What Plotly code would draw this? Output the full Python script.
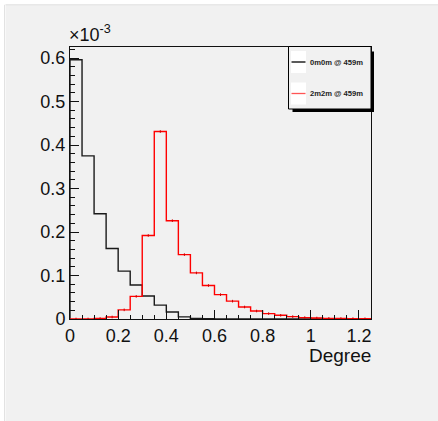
import plotly.graph_objects as go

# bin edges (Degree), width 0.05, 0 .. 1.25
bin_edges = [round(i * 0.05, 2) for i in range(26)]

# histogram contents in units of 1e-3
black_vals = [0.596, 0.375, 0.242, 0.162, 0.110, 0.078, 0.053, 0.032, 0.016, 0.005,
              0.0015, 0.0006, 0.0003, 0.0002, 0.0001, 0, 0, 0, 0, 0, 0, 0, 0, 0, 0]
red_vals = [0, 0, 0.001, 0.0046, 0.021, 0.052, 0.192, 0.431, 0.226, 0.148,
            0.106, 0.077, 0.056, 0.041, 0.0276, 0.0184, 0.0124, 0.0085, 0.0055, 0.0032,
            0.0022, 0.0015, 0.001, 0.0008, 0.0005]

series_names = ["0m0m @ 459m", "2m2m @ 459m"]
x_ticks = [0, 0.2, 0.4, 0.6, 0.8, 1, 1.2]
y_ticks = [0, 0.1, 0.2, 0.3, 0.4, 0.5, 0.6]

W, H = 438, 421
L, R, T, B = 70, 67, 47, 102
pw, ph = W - L - R, H - T - B
BG = "#f1f1f1"
FONT = "Liberation Sans, Arial, Helvetica, sans-serif"
FS = 18


def px(x):
    return (x - L) / pw


def py(y):
    return (H - B - y) / ph


def step(vals):
    xs = [bin_edges[0]] + bin_edges
    ys = [0] + list(vals) + [vals[-1]]
    return xs, ys


fig = go.Figure()
bx, by = step(black_vals)
fig.add_trace(go.Scatter(x=bx, y=by, mode="lines", line=dict(color="#1a1a1a", width=1.4, shape="hv"),
                         showlegend=False, hoverinfo="skip"))
rx, ry = step(red_vals)
fig.add_trace(go.Scatter(x=rx, y=ry, mode="lines", line=dict(color="#ff0000", width=1.4, shape="hv"),
                         showlegend=False, hoverinfo="skip"))
# small error ticks at bin centers for red
centers = [round(e + 0.025, 3) for e in bin_edges[:-1]]
fig.add_trace(go.Scatter(x=centers, y=red_vals, mode="markers", marker=dict(size=0.1, color="red"),
                         error_y=dict(type="data", array=[0.003] * len(red_vals), color="#cc0000",
                                      thickness=1, width=0),
                         showlegend=False, hoverinfo="skip"))

shapes = []
# white outer strips
shapes.append(dict(type="rect", xref="paper", yref="paper", x0=px(0), x1=px(W), y0=py(0), y1=py(4.5),
                   fillcolor="white", line=dict(width=0), layer="below"))
shapes.append(dict(type="rect", xref="paper", yref="paper", x0=px(0), x1=px(5.5), y0=py(0), y1=py(H),
                   fillcolor="white", line=dict(width=0), layer="below"))
shapes.append(dict(type="line", xref="paper", yref="paper", x0=px(5.5), x1=px(W), y0=py(4.8), y1=py(4.8),
                   line=dict(color="#e2e2e2", width=1)))
shapes.append(dict(type="line", xref="paper", yref="paper", x0=px(4.5), x1=px(4.5), y0=py(4.8), y1=py(H),
                   line=dict(color="#e2e2e2", width=1)))

# legend box with shadow
lx0, lx1, ly0, ly1 = 288.5, 371, 46.5, 109
shapes.append(dict(type="rect", xref="paper", yref="paper", x0=px(lx0 + 4), x1=px(lx1 + 3), y0=py(ly0 + 5),
                   y1=py(ly1 + 3), fillcolor="black", line=dict(width=0)))
shapes.append(dict(type="rect", xref="paper", yref="paper", x0=px(lx0), x1=px(lx1), y0=py(ly0), y1=py(ly1),
                   fillcolor=BG, line=dict(color="black", width=1)))
for i, (yc, col) in enumerate([(62, "black"), (93.5, "#ff5555")]):
    shapes.append(dict(type="rect", xref="paper", yref="paper", x0=px(291), x1=px(306), y0=py(yc - 11),
                       y1=py(yc + 11), fillcolor="white", line=dict(width=0)))
    shapes.append(dict(type="line", xref="paper", yref="paper", x0=px(291.5), x1=px(305.5), y0=py(yc),
                       y1=py(yc), line=dict(color=col, width=1.3)))

annotations = []
for i, yc in enumerate([62, 93.5]):
    annotations.append(dict(text="<b>" + series_names[i] + "</b>", xref="paper", yref="paper",
                            x=px(308), y=py(yc), xanchor="left", yanchor="middle", showarrow=False,
                            font=dict(family=FONT, size=7.6, color="#222")))
annotations.append(dict(text="×10<sup>-3</sup>", xref="paper", yref="paper", x=px(67), y=py(47),
                        xanchor="left", yanchor="bottom", showarrow=False,
                        font=dict(family=FONT, size=FS, color="#111")))
annotations.append(dict(text="Degree", xref="paper", yref="paper", x=px(373), y=py(342.5),
                        xanchor="right", yanchor="top", showarrow=False,
                        font=dict(family=FONT, size=FS + 1, color="#111")))

fig.update_layout(
    width=W, height=H,
    margin=dict(l=L, r=R, t=T, b=B, pad=0),
    paper_bgcolor=BG, plot_bgcolor=BG,
    shapes=shapes, annotations=annotations,
    showlegend=False,
    font=dict(family=FONT, size=FS, color="#111"),
)
fig.update_xaxes(range=[0, 1.25], tickvals=x_ticks, ticktext=[str(v) for v in x_ticks],
                 ticks="inside", ticklen=9, tickcolor="#111", tickwidth=1,
                 minor=dict(dtick=0.05, ticks="inside", ticklen=4.5, tickcolor="#111", tickwidth=1, showgrid=False),
                 showgrid=False, zeroline=False, showline=True, linecolor="#111", linewidth=1, mirror=True,
                 tickfont=dict(size=FS, family=FONT))
fig.update_yaxes(range=[0, 0.6253], tickvals=y_ticks, ticktext=[str(v) for v in y_ticks],
                 ticks="inside", ticklen=9, tickcolor="#111", tickwidth=1,
                 minor=dict(dtick=0.02, ticks="inside", ticklen=4.5, tickcolor="#111", tickwidth=1, showgrid=False),
                 showgrid=False, zeroline=False, showline=True, linecolor="#111", linewidth=1, mirror=True,
                 tickfont=dict(size=FS, family=FONT))

fig.write_html("out.html", config={"displayModeBar": False},
               post_script="document.body.style.margin='0';document.body.style.overflow='hidden';")
